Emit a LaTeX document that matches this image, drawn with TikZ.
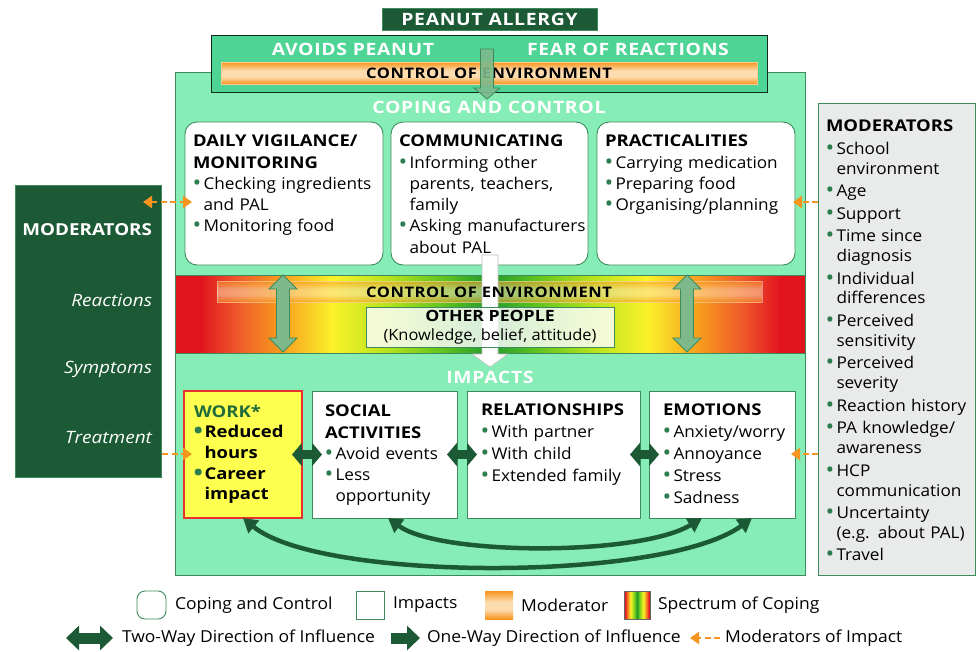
\documentclass[tikz,border=0pt]{standalone}
\usepackage{fontspec}
\setmainfont{Open Sans}[FakeStretch=1.06, BoldFeatures={FakeStretch=1.14}, ItalicFeatures={FakeStretch=1.12}]
\newfontfamily\spc{Open Sans}[LetterSpace=4, FakeStretch=1.14]
\usetikzlibrary{arrows.meta,calc}
\definecolor{dkg}{HTML}{1C5A35}
\definecolor{topg}{HTML}{4ED596}
\definecolor{maing}{HTML}{87EDB6}
\definecolor{edg}{HTML}{3F8A5C}
\definecolor{arrg}{HTML}{7DB98B}
\definecolor{bulg}{HTML}{2E7D4F}
\definecolor{workg}{HTML}{1F6B3A}
\definecolor{orng}{HTML}{F7941D}
\definecolor{lorng}{HTML}{FDDDB0}
\definecolor{grayb}{HTML}{E9EBEA}
\definecolor{yelb}{HTML}{FFFF4F}
\definecolor{redb}{HTML}{E8312F}
\definecolor{sred}{HTML}{E1141E}
\definecolor{sor2}{HTML}{EF5A2A}
\definecolor{syel}{HTML}{FBF22A}
\definecolor{sygr}{HTML}{B3E21B}
\definecolor{sgr}{HTML}{5DC21F}
\definecolor{sdg}{HTML}{1F9A2C}
\pgfdeclareverticalshading{orbar}{100bp}{color(0bp)=(orng); color(25bp)=(orng); color(42bp)=(lorng); color(55bp)=(lorng); color(75bp)=(orng); color(100bp)=(orng)}
\pgfdeclarehorizontalshading{spec}{100bp}{color(0bp)=(sred); color(25bp)=(sred); color(27bp)=(sred); color(30bp)=(sor2); color(33bp)=(orng); color(37.5bp)=(syel); color(42bp)=(sygr); color(46.5bp)=(sgr); color(50bp)=(sdg); color(53.5bp)=(sgr); color(58bp)=(sygr); color(62.5bp)=(syel); color(67bp)=(orng); color(70bp)=(sor2); color(73bp)=(sred); color(75bp)=(sred); color(100bp)=(sred)}
\newcommand\bitem[1]{\par\hangindent=10.5pt\hangafter=1\noindent\makebox[10.5pt][l]{\hspace{-0.3pt}\textcolor{bulg}{\raisebox{-0.12ex}{\scalebox{1.35}{\textbullet}}}}#1}
\newcommand\nl{\newline}
% vertical double fat arrow: x, ytop, ybot, style
\newcommand\vdarrow[4]{\filldraw[#4] (#1,#2) -- (#1+14,#2+14) -- (#1+6.5,#2+14) -- (#1+6.5,#3-14) -- (#1+14,#3-14) -- (#1,#3) -- (#1-14,#3-14) -- (#1-6.5,#3-14) -- (#1-6.5,#2+14) -- (#1-14,#2+14) -- cycle;}
% down fat arrow: x, ytop, ybot, shaft half width, head half width, head length, style
\newcommand\dnarrow[7]{\filldraw[#7] (#1-#4,#2) -- (#1+#4,#2) -- (#1+#4,#3-#6) -- (#1+#5,#3-#6) -- (#1,#3) -- (#1-#5,#3-#6) -- (#1-#4,#3-#6) -- cycle;}
\tikzset{
  every node/.style={inner sep=0pt, outer sep=0pt},
  copbox/.style={draw=edg, fill=white, line width=0.9pt, rounded corners=12pt, anchor=north west},
  impbox/.style={draw=edg, fill=white, line width=0.9pt, anchor=north west},
  body/.style={anchor=north west, align=left, text width=#1, font=\fontsize{16.2}{21.3}\selectfont},
  body/.default=200pt,
  modtxt/.style={anchor=north west, align=left, text width=160pt, font=\fontsize{16.2}{19.9}\selectfont},
  bigtitle/.style={text=white, font=\fontsize{17}{20}\bfseries\spc},
  ctrl/.style={font=\fontsize{14.5}{18}\bfseries\spc},
  lefti/.style={anchor=east, text=white, font=\fontsize{17}{20}\itshape},
  legtxt/.style={anchor=west, font=\fontsize{16.5}{19}\selectfont},
  twoway/.style={dkg, line width=9pt, {Triangle[width=23pt,length=10pt]}-{Triangle[width=23pt,length=10pt]}},
  curved/.style={dkg, line width=4.5pt, {Triangle[width=16pt,length=14pt]}-{Triangle[width=16pt,length=14pt]}},
  modarr/.style={orng, line width=2.6pt, dash pattern=on 6pt off 3.5pt, -{Triangle[width=12pt,length=9pt]}},
  modarr2/.style={orng, line width=2.6pt, dash pattern=on 6pt off 3.5pt, {Triangle[width=12pt,length=9pt]}-{Triangle[width=12pt,length=9pt]}},
}
\begin{document}
\begin{tikzpicture}[x=1pt,y=-1pt]
\useasboundingbox (0,0) rectangle (977,651);
% main container
\node[draw=edg, fill=maing, line width=1pt, minimum width=630pt, minimum height=503pt, anchor=north west] (main) at (175,72) {};
% top box
\node[draw=black!70!edg, fill=topg, line width=1pt, minimum width=556pt, minimum height=57pt, anchor=north west] (top) at (211,35) {};
\node[bigtitle] (avoid) at (353,49) {AVOIDS PEANUT};
\node[bigtitle] (fear) at (628,49) {FEAR OF REACTIONS};
\node[shade, shading=orbar, draw=orng!50!white, line width=0.6pt, minimum width=536pt, minimum height=22pt, anchor=north west] (bar1) at (221,62) {};
\node[ctrl] (bar1t) at (489,73.5) {CONTROL OF ENVIRONMENT};
% peanut allergy
\node[fill=dkg, draw=edg, line width=0.6pt, minimum width=215pt, minimum height=22pt, text=white, font=\fontsize{17}{20}\bfseries\spc] (pa) at (489.5,19) {PEANUT ALLERGY};
% down arrow
\dnarrow{487}{49}{99}{6.5}{13}{11}{fill=arrg, fill opacity=0.9, draw=edg, line width=0.8pt}
\node[bigtitle] (coping) at (489,107) {COPING AND CONTROL};
% coping boxes
\node[copbox, minimum width=198pt, minimum height=143pt] (c1) at (185,122) {};
\node[copbox, minimum width=197pt, minimum height=143pt] (c2) at (391,122) {};
\node[copbox, minimum width=198pt, minimum height=143pt] (c3) at (597,122) {};
\node[body] (c1t) at (193,135) {{\bfseries DAILY VIGILANCE/\\MONITORING}\bitem{Checking ingredients\nl and PAL}\bitem{Monitoring food}\par};
\node[body] (c2t) at (399,135) {{\bfseries COMMUNICATING}\bitem{Informing other\nl parents, teachers,\nl family}\bitem{Asking manufacturers\nl about PAL}\par};
\node[body] (c3t) at (605,135) {{\bfseries PRACTICALITIES}\bitem{Carrying medication}\bitem{Preparing food}\bitem{Organising/planning}\par};
% spectrum band
\node[shade, shading=spec, draw=edg, line width=0.8pt, minimum width=630pt, minimum height=78pt, anchor=north west] (band) at (175,275) {};
\path[shade, shading=orbar, opacity=0.55] (217,281) rectangle (762,302);
\node[draw=white, draw opacity=0.4, line width=0.8pt, minimum width=545pt, minimum height=21pt, anchor=north west] (bar2) at (217,281) {};
\dnarrow{490}{255}{367}{8}{18}{13}{fill=white, draw=black!25, line width=0.6pt}
\node[ctrl] (bar2t) at (489,292.5) {CONTROL OF ENVIRONMENT};
\node[draw=edg, fill=white, fill opacity=0.82, text opacity=1, line width=0.8pt, minimum width=248pt, minimum height=40pt, align=center, font=\fontsize{15.5}{18.5}\selectfont] (op) at (490,327) {{\bfseries OTHER PEOPLE}\\(Knowledge, belief, attitude)};
\vdarrow{283}{275}{352}{fill=arrg, draw=edg, line width=0.8pt}
\vdarrow{687}{275}{352}{fill=arrg, draw=edg, line width=0.8pt}
\node[bigtitle] (impacts) at (490,377) {IMPACTS};
% impact boxes
\node[impbox, fill=yelb, draw=redb, line width=1.2pt, minimum width=118pt, minimum height=127pt] (w) at (184,391) {};
\node[impbox, minimum width=145pt, minimum height=127pt] (s) at (312,391) {};
\node[impbox, minimum width=173pt, minimum height=127pt] (r) at (467,391) {};
\node[impbox, minimum width=146pt, minimum height=127pt] (e) at (649,391) {};
\node[body=115pt, font=\fontsize{16.2}{20.6}\selectfont] (wt) at (194,405) {{\bfseries\color{workg} WORK*}\bfseries\bitem{Reduced\nl hours}\bitem{Career\nl impact}\par};
\node[body=140pt] (st) at (325,405) {{\bfseries SOCIAL\\ACTIVITIES}\bitem{Avoid events}\bitem{Less\nl opportunity}\par};
\node[body=170pt, font=\fontsize{16.2}{21.9}\selectfont] (rt) at (481,404) {{\bfseries RELATIONSHIPS}\bitem{With partner}\bitem{With child}\bitem{Extended family}\par};
\node[body=145pt, font=\fontsize{16.2}{21.9}\selectfont] (et) at (663,404) {{\bfseries EMOTIONS}\bitem{Anxiety/worry}\bitem{Annoyance}\bitem{Stress}\bitem{Sadness}\par};
% two-way arrows between impacts
\draw[twoway] ([xshift=-10pt]w.east) -- ([xshift=10pt]s.west);
\draw[twoway] ([xshift=-10pt]s.east) -- ([xshift=10pt]r.west);
\draw[twoway] ([xshift=-10pt]r.east) -- ([xshift=10pt]e.west);
% curved arrows
\draw[curved] ([xshift=3.5pt]s.south) .. controls (440,556) and (640,556) .. ([xshift=-20pt]e.south);
\draw[curved] (w.south) .. controls (320,582) and (665,582) .. ([xshift=30pt]e.south);
% left moderators
\node[fill=dkg, draw=edg, line width=0.6pt, minimum width=146pt, minimum height=292pt, anchor=north west] (lm) at (15,185) {};
\node[anchor=east, text=white, font=\fontsize{16.5}{20}\bfseries] (lmt) at (152,230) {MODERATORS};
\node[lefti] (lr) at (152,300) {Reactions};
\node[lefti] (ls) at (152,369) {Symptoms};
\node[lefti] (ltr) at (152,438) {Treatment};
% right moderators
\node[fill=grayb, draw=edg, line width=1pt, minimum width=157pt, minimum height=472pt, anchor=north west] (rm) at (818,103) {};
\node[modtxt] (rmt) at (826,120) {\setlength{\parskip}{2.6pt}{\bfseries MODERATORS}\bitem{School\nl environment}\bitem{Age}\bitem{Support}\bitem{Time since\nl diagnosis}\bitem{Individual\nl differences}\bitem{Perceived\nl sensitivity}\bitem{Perceived\nl severity}\bitem{Reaction history}\bitem{PA knowledge/\nl awareness}\bitem{HCP\nl communication}\bitem{Uncertainty\nl (e.g. about PAL)}\bitem{Travel}\par};
% moderator arrows
\coordinate (mlA) at (143,202);
\coordinate (mlB) at (162,454);
\draw[modarr2] (mlA) -- ([xshift=7pt]c1.west |- mlA);
\draw[modarr] (mlB) -- ([xshift=8pt]w.west |- mlB);
\draw[modarr] (rm.west |- mlA) -- ([xshift=-2pt]c3.east |- mlA);
\draw[modarr] (rm.west |- mlB) -- ([xshift=-4pt]e.east |- mlB);
% legend
\node[draw=edg, fill=white, line width=0.9pt, rounded corners=8pt, minimum width=29pt, minimum height=28pt] (lg1) at (151.5,605) {};
\node[legtxt] (lg1t) at (175,605) {Coping and Control};
\node[draw=edg, fill=white, line width=0.9pt, minimum width=28pt, minimum height=28pt] (lg2) at (370,605) {};
\node[legtxt] (lg2t) at (393,605) {Impacts};
\node[shade, shading=orbar, minimum width=28pt, minimum height=28pt] (lg3) at (499,605) {};
\node[legtxt] (lg3t) at (521,605) {Moderator};
\node[shade, shading=spec, draw=black!60, line width=0.5pt, minimum width=26pt, minimum height=28pt] (lg4) at (637,605) {};
\node[legtxt] (lg4t) at (658,605) {Spectrum of Coping};
\coordinate (lgA1) at (66,638);
\coordinate (lgA2) at (113,638);
\draw[dkg, line width=11pt, {Triangle[width=24pt,length=13pt]}-{Triangle[width=24pt,length=13pt]}] (lgA1) -- (lgA2);
\node[legtxt] (lg5t) at (122,638) {Two-Way Direction of Influence};
\coordinate (lgB1) at (391,638);
\coordinate (lgB2) at (420,638);
\draw[dkg, line width=11pt, -{Triangle[width=24pt,length=13pt]}] (lgB1) -- (lgB2);
\node[legtxt] (lg6t) at (427,638) {One-Way Direction of Influence};
\coordinate (lgC1) at (720,638);
\coordinate (lgC2) at (690,638);
\draw[modarr] (lgC1) -- (lgC2);
\node[legtxt] (lg7t) at (725,638) {Moderators of Impact};
\end{tikzpicture}
\end{document}
